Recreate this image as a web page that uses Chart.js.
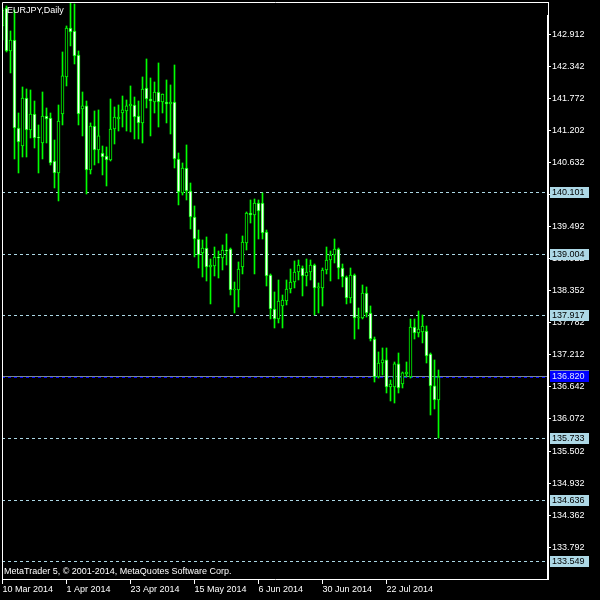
<!DOCTYPE html>
<html>
<head>
<meta charset="utf-8">
<script src="https://cdn.jsdelivr.net/npm/chart.js@4.4.0/dist/chart.umd.min.js"></script>
<style>
  html, body { margin: 0; padding: 0; background: #000; }
</style>
</head>
<body>
<canvas id="candle-chart" width="600" height="600"></canvas>
<script>
// EURJPY daily, 10 Mar 2014 .. 8 Aug 2014 (bar index 0 = 10 Mar)
const openP = [143.055, 143.375, 142.611, 142.806, 141.243, 140.923, 141.776, 141.207, 141.491, 141.083,
    140.976, 141.456, 141.420, 140.656, 140.443, 141.491, 142.149, 143.019, 142.966, 142.540,
    141.580, 141.634, 140.496, 141.278, 140.852, 140.798, 140.745, 140.674, 141.225, 141.403,
    141.509, 141.545, 141.634, 141.651, 141.456, 141.332, 141.953, 141.758, 141.705, 141.882,
    141.705, 141.705, 141.669, 141.705, 140.692, 140.088, 140.532, 140.123, 139.661, 139.270,
    139.022, 139.110, 138.773, 138.791, 138.951, 138.933, 139.075, 139.093, 138.364, 138.364,
    138.773, 139.199, 139.732, 139.697, 139.910, 139.910, 139.395, 138.631, 138.027, 137.849,
    138.080, 138.169, 138.382, 138.506, 138.684, 138.755, 138.613, 138.684, 138.808, 138.400,
    138.400, 138.720, 138.897, 138.986, 139.093, 138.755, 138.595, 138.222, 138.631, 137.867,
    137.867, 138.311, 137.956, 137.493, 136.818, 137.067, 137.121, 136.641, 136.641, 137.050,
    136.694, 136.872, 136.818, 137.707, 137.600, 137.618, 137.636, 137.227, 136.659, 136.410];
const highP = [143.375, 143.410, 142.966, 143.339, 141.509, 141.971, 141.936, 141.918, 141.722, 141.296,
    141.882, 141.598, 141.509, 141.029, 141.651, 142.593, 143.055, 143.481, 143.446, 142.611,
    141.882, 141.722, 141.332, 141.545, 141.563, 140.923, 140.905, 141.758, 141.616, 141.651,
    141.811, 141.740, 141.989, 141.793, 141.722, 142.149, 142.469, 142.131, 142.060, 142.398,
    141.847, 142.096, 142.007, 142.362, 140.798, 140.621, 140.941, 140.265, 139.857, 139.430,
    139.253, 139.306, 138.915, 139.128, 139.057, 139.164, 139.359, 139.110, 138.506, 138.862,
    139.324, 139.750, 139.963, 139.981, 139.963, 140.088, 139.430, 138.649, 138.329, 138.542,
    138.275, 138.542, 138.737, 138.880, 138.897, 138.791, 138.915, 138.897, 138.826, 138.489,
    138.755, 139.128, 139.057, 139.270, 139.110, 138.826, 138.613, 138.755, 138.649, 138.044,
    138.453, 138.418, 138.080, 137.529, 137.263, 137.334, 137.334, 136.765, 137.085, 137.245,
    136.907, 137.085, 137.849, 137.849, 137.991, 137.920, 137.725, 137.245, 137.121, 136.943];
const lowP = [142.806, 142.593, 142.220, 140.692, 140.443, 140.727, 140.727, 141.065, 140.887, 140.443,
    140.692, 140.976, 140.585, 140.177, 139.946, 141.296, 141.989, 142.700, 142.380, 141.296,
    141.101, 140.070, 140.425, 140.585, 140.621, 140.408, 140.212, 140.656, 140.958, 141.189,
    141.260, 141.189, 141.172, 141.047, 141.047, 140.976, 141.598, 141.101, 141.509, 141.260,
    141.509, 141.332, 141.136, 140.532, 139.875, 140.052, 139.963, 139.448, 138.951, 138.755,
    138.595, 138.524, 138.116, 138.613, 138.577, 138.720, 138.808, 138.275, 137.956, 138.062,
    138.649, 139.075, 139.554, 138.649, 139.270, 139.270, 138.435, 137.849, 137.689, 137.778,
    137.689, 138.098, 138.311, 138.400, 138.542, 138.258, 138.435, 138.542, 137.920, 137.956,
    138.080, 138.649, 138.524, 138.844, 138.560, 138.418, 138.116, 138.133, 137.493, 137.671,
    137.849, 137.884, 137.458, 136.729, 136.800, 136.854, 136.534, 136.392, 136.356, 136.534,
    136.623, 136.818, 136.800, 137.493, 137.529, 137.423, 137.067, 136.143, 136.250, 135.733];
const closeP = [143.339, 142.611, 142.806, 141.243, 140.994, 141.776, 141.207, 141.491, 141.065, 141.065,
    141.456, 141.403, 140.621, 140.443, 141.367, 142.167, 143.019, 142.948, 142.522, 141.491,
    141.634, 140.496, 141.278, 140.852, 141.101, 140.727, 140.674, 141.225, 141.438, 141.438,
    141.563, 141.634, 141.669, 141.438, 141.332, 141.936, 141.758, 141.722, 141.882, 141.705,
    141.847, 141.669, 141.705, 140.692, 140.106, 140.532, 140.123, 139.661, 139.270, 138.986,
    139.110, 138.773, 138.808, 138.951, 138.933, 139.075, 139.057, 138.364, 138.382, 138.737,
    139.217, 139.732, 139.697, 139.910, 139.768, 139.377, 138.613, 138.027, 137.849, 138.169,
    138.187, 138.382, 138.506, 138.684, 138.808, 138.613, 138.684, 138.808, 138.400, 138.418,
    138.720, 138.897, 138.986, 139.093, 138.755, 138.595, 138.222, 138.631, 137.867, 137.884,
    138.311, 137.956, 137.493, 136.818, 137.067, 137.121, 136.641, 136.694, 137.050, 136.623,
    136.890, 136.907, 137.707, 137.600, 137.671, 137.725, 137.192, 136.659, 136.410, 136.820];

const xTickIdx = [0, 16, 32, 48, 64, 80, 96];
const xTickLabels = ['10 Mar 2014', '1 Apr 2014', '23 Apr 2014', '15 May 2014', '6 Jun 2014', '30 Jun 2014', '22 Jul 2014'];
const yTicks = [142.912, 142.342, 141.772, 141.202, 140.632, 140.062, 139.492, 138.922, 138.352,
    137.782, 137.212, 136.642, 136.072, 135.502, 134.932, 134.362, 133.792];
const levelPrices = [140.101, 139.004, 137.917, 135.733, 134.636, 133.549];
const bidPrice = 136.820;

const FONT = '9px "Liberation Sans", Arial, sans-serif';

// horizontal levels behind the candles
const levelLines = {
    id: 'levelLines',
    beforeDatasetsDraw(chart) {
        const { ctx, chartArea: a, scales: { y } } = chart;
        ctx.save();
        ctx.lineWidth = 1;
        ctx.setLineDash([3, 3]);
        ctx.strokeStyle = '#add8e6';
        levelPrices.forEach(p => {
            const py = Math.round(y.getPixelForValue(p)) + 0.5;
            ctx.beginPath();
            ctx.moveTo(a.left, py);
            ctx.lineTo(a.right, py);
            ctx.stroke();
        });
        const by = Math.round(y.getPixelForValue(bidPrice)) - 0.5;
        ctx.setLineDash([]);
        ctx.strokeStyle = '#778899';
        ctx.beginPath();
        ctx.moveTo(a.left, by);
        ctx.lineTo(a.right, by);
        ctx.stroke();
        ctx.setLineDash([3, 3]);
        ctx.strokeStyle = '#0000ff';
        ctx.beginPath();
        ctx.moveTo(a.left, by + 1);
        ctx.lineTo(a.right, by + 1);
        ctx.stroke();
        ctx.restore();
    }
};

// frame, price boxes and texts on top
const overlay = {
    id: 'overlay',
    afterDraw(chart) {
        const { ctx, chartArea: a, scales: { y } } = chart;
        ctx.save();
        ctx.strokeStyle = '#ffffff';
        ctx.lineWidth = 1;
        ctx.beginPath();
        ctx.moveTo(a.left + 0.5, a.bottom + 0.5);
        ctx.lineTo(a.left + 0.5, a.top + 0.5);
        ctx.lineTo(a.right + 1.5, a.top + 0.5);
        ctx.moveTo(a.left, a.bottom + 0.5);
        ctx.lineTo(a.right + 2, a.bottom + 0.5);
        ctx.stroke();
        ctx.fillStyle = '#ffffff';
        ctx.fillRect(a.right, a.top + 13, 2, a.bottom - a.top - 12);
        ctx.fillRect(a.right + 1, a.top, 1, 14);

        ctx.font = FONT;
        ctx.textBaseline = 'middle';
        levelPrices.forEach(p => {
            const py = Math.round(y.getPixelForValue(p));
            ctx.fillStyle = '#add8e6';
            ctx.fillRect(550, py - 5, 39, 11);
            ctx.fillStyle = '#000000';
            ctx.fillText(p.toFixed(3), 552, py + 1);
        });
        const by = Math.round(y.getPixelForValue(bidPrice));
        ctx.fillStyle = '#0000ff';
        ctx.fillRect(550, by - 7, 39, 12);
        ctx.fillStyle = '#8090a8';
        ctx.fillRect(550, by - 7, 39, 1);
        ctx.fillStyle = '#dfe8ff';
        ctx.fillText(bidPrice.toFixed(3), 552, by);

        ctx.fillStyle = '#ffffff';
        ctx.textBaseline = 'alphabetic';
        ctx.fillText('EURJPY,Daily', 7, 13);
        ctx.fillText('MetaTrader 5, \u00a9 2001-2014, MetaQuotes Software Corp.', 4, 574);
        ctx.restore();
    }
};

function createCandleChart() {
    const ctx = document.getElementById('candle-chart').getContext('2d');

    const bodies = openP.map((o, i) => ({ x: i, y: [o, closeP[i]] }));
    const wicks = lowP.map((l, i) => ({ x: i, y: [l, highP[i]] }));
    const bodyFill = openP.map((o, i) => closeP[i] < o ? '#ffffff' : '#000000');

    window.candleChart = new Chart(ctx, {
        type: 'bar',
        data: {
            datasets: [
                {
                    label: 'Body',
                    data: bodies,
                    backgroundColor: bodyFill,
                    borderColor: '#00ff00',
                    borderWidth: 1,
                    borderSkipped: false,
                    barThickness: 3,
                    minBarLength: 1,
                    grouped: false,
                },
                {
                    label: 'Wick',
                    data: wicks,
                    backgroundColor: '#00ff00',
                    borderWidth: 0,
                    barThickness: 1,
                    grouped: false,
                },
            ],
        },
        options: {
            responsive: false,
            animation: false,
            events: [],
            layout: { padding: { left: 2, top: 2, right: 0, bottom: 0 } },
            plugins: { legend: { display: false }, tooltip: { enabled: false } },
            scales: {
                x: {
                    type: 'linear',
                    offset: false,
                    min: -0.125,
                    max: 136.125,
                    afterBuildTicks: s => { s.ticks = xTickIdx.map(v => ({ value: v })); },
                    afterFit: s => { s.height = 21; s.paddingLeft = 0; s.paddingRight = 0; },
                    grid: { offset: false, drawOnChartArea: false, drawTicks: true, tickLength: 5, tickColor: '#ffffff' },
                    border: { display: false },
                    ticks: {
                        color: '#ffffff',
                        font: { family: 'Liberation Sans', size: 9 },
                        align: 'start',
                        padding: 0,
                        maxRotation: 0,
                        autoSkip: false,
                        callback: (v, idx) => xTickLabels[idx],
                    },
                },
                y: {
                    position: 'right',
                    min: 133.229,
                    max: 143.481,
                    afterBuildTicks: s => { s.ticks = yTicks.map(v => ({ value: v })); },
                    afterFit: s => { s.width = 53; s.paddingTop = 0; s.paddingBottom = 0; },
                    grid: { drawOnChartArea: false, drawTicks: true, tickLength: 4, tickColor: '#ffffff' },
                    border: { display: false },
                    ticks: {
                        color: '#ffffff',
                        font: { family: 'Liberation Sans', size: 9 },
                        padding: 1,
                        callback: v => Number(v).toFixed(3),
                    },
                },
            },
        },
        plugins: [levelLines, overlay],
    });
}

createCandleChart();
</script>
</body>
</html>
